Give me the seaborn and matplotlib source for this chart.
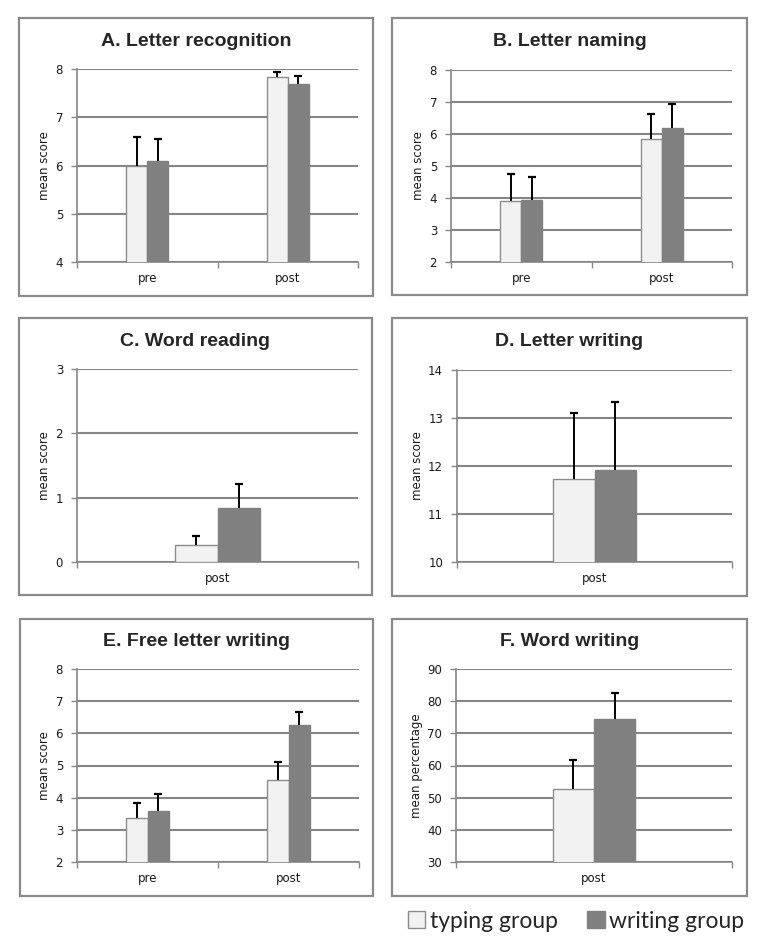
import numpy as np
import pandas as pd
import matplotlib
matplotlib.use("Agg")
import matplotlib.pyplot as plt
import seaborn as sns
from matplotlib.patches import Patch, Rectangle

# values
groups = ["typing group", "writing group"]

titles = ["A. Letter recognition", "B. Letter naming", "C. Word reading",
          "D. Letter writing", "E. Free letter writing", "F. Word writing"]
ylabels = ["mean score", "mean score", "mean score",
           "mean score", "mean score", "mean percentage"]

a_phase = ["pre", "post"]
a_typing = [6.0, 7.83]
a_writing = [6.09, 7.69]
a_typing_err = [0.60, 0.11]
a_writing_err = [0.46, 0.17]

b_phase = ["pre", "post"]
b_typing = [3.90, 5.83]
b_writing = [3.93, 6.19]
b_typing_err = [0.84, 0.79]
b_writing_err = [0.73, 0.74]

c_phase = ["post"]
c_typing = [0.27]
c_writing = [0.84]
c_typing_err = [0.14]
c_writing_err = [0.38]

d_phase = ["post"]
d_typing = [11.73]
d_writing = [11.92]
d_typing_err = [1.38]
d_writing_err = [1.41]

e_phase = ["pre", "post"]
e_typing = [3.36, 4.55]
e_writing = [3.60, 6.27]
e_typing_err = [0.46, 0.55]
e_writing_err = [0.51, 0.39]

f_phase = ["post"]
f_typing = [52.8]
f_writing = [74.4]
f_typing_err = [9.0]
f_writing_err = [8.0]

yranges = [(4, 8, 1), (2, 8, 1), (0, 3, 1), (10, 14, 1), (2, 8, 1), (30, 90, 10)]

panels = [
    (a_phase, a_typing, a_writing, a_typing_err, a_writing_err),
    (b_phase, b_typing, b_writing, b_typing_err, b_writing_err),
    (c_phase, c_typing, c_writing, c_typing_err, c_writing_err),
    (d_phase, d_typing, d_writing, d_typing_err, d_writing_err),
    (e_phase, e_typing, e_writing, e_typing_err, e_writing_err),
    (f_phase, f_typing, f_writing, f_typing_err, f_writing_err),
]

sns.set_style("white")
plt.rcParams['font.family'] = ['DejaVu Sans']

W, H = 765, 951
fig = plt.figure(figsize=(W / 100, H / 100), dpi=100)

# pixel boxes: (axes left, right, top, bottom), (frame left, right, top, bottom), title y
axes_px = [(77, 358, 69, 262), (451, 732, 70, 262),
           (77, 358, 369, 562), (457, 732, 370, 562),
           (77, 359, 669, 862), (456, 732, 669, 862)]
frame_px = [(19, 373, 18, 296), (392, 747, 18, 295),
            (19, 372, 318, 595), (392, 747, 318, 596),
            (20, 373, 619, 896), (392, 747, 619, 896)]
title_y = [42, 42, 342, 342, 642, 642]

light = "#f2f2f2"
dark = "#808080"
grid_c = "#868686"

for i, (phase, typ, wri, typ_e, wri_e) in enumerate(panels):
    l, r, t, b = axes_px[i]
    ax = fig.add_axes([l / W, 1 - b / H, (r - l) / W, (b - t) / H])

    df = pd.DataFrame({
        "phase": phase * 2,
        "value": typ + wri,
        "group": [groups[0]] * len(phase) + [groups[1]] * len(phase),
    })
    sns.barplot(data=df, x="phase", y="value", hue="group", ax=ax,
                palette=[light, dark], width=0.3, errorbar=None,
                legend=False, zorder=3)

    errs = [typ_e, wri_e]
    edges = ["#8c8c8c", dark]
    bar_sets = list(ax.containers)
    for k, cont in enumerate(bar_sets):
        for j, bar in enumerate(cont):
            bar.set_edgecolor(edges[k])
            bar.set_linewidth(1.0)
            xc = bar.get_x() + bar.get_width() / 2
            h = bar.get_height()
            eb = ax.errorbar(xc, h, yerr=[[0], [errs[k][j]]], fmt="none",
                             ecolor="black", elinewidth=1.4, capsize=2.8,
                             capthick=1.6, zorder=4)
            # only the upper cap is shown
            eb.lines[1][0].set_visible(False)

    lo, hi, step = yranges[i]
    ax.set_ylim(lo, hi)
    ax.set_yticks(np.arange(lo, hi + step / 2, step))
    ax.set_xlim(-0.5, len(phase) - 0.5)
    ax.yaxis.grid(True, color=grid_c, linewidth=1.5, zorder=0)
    ax.set_axisbelow(True)

    ax.set_xlabel("")
    ax.set_ylabel(ylabels[i], fontsize=8.5, color="#1a1a1a", labelpad=3)
    ax.tick_params(axis="y", labelsize=8.5, colors="#1a1a1a", length=4,
                   width=1, color=grid_c, direction="out", left=True, pad=6)
    ax.tick_params(axis="x", labelsize=8.5, colors="#1a1a1a", length=0, pad=7)

    # category boundary ticks on the x axis
    ax.set_xticks(np.arange(-0.5, len(phase)), minor=True)
    ax.tick_params(axis="x", which="minor", length=4, width=1, color=grid_c,
                   direction="out", bottom=True)

    for s in ["top", "right"]:
        ax.spines[s].set_visible(False)
    for s in ["left", "bottom"]:
        ax.spines[s].set_color(grid_c)
        ax.spines[s].set_linewidth(1.2)

    fl, fr, ft, fb = frame_px[i]
    fig.patches.append(Rectangle((fl / W, 1 - fb / H), (fr - fl) / W, (fb - ft) / H,
                                 transform=fig.transFigure, fill=False,
                                 edgecolor="#8a8a8a", linewidth=1.6, zorder=0))
    fig.text((fl + fr) / 2 / W, 1 - title_y[i] / H, titles[i],
             ha="center", va="center", fontsize=14, fontweight="bold",
             family="Liberation Sans")

handles = [Patch(facecolor=light, edgecolor="#8c8c8c", linewidth=1.0),
           Patch(facecolor=dark, edgecolor=dark, linewidth=1.0)]
fig.legend(handles, groups, loc="center", bbox_to_anchor=(576 / W, 1 - 921 / H),
           ncol=2, frameon=False, handlelength=0.75, handleheight=0.75,
           handletextpad=0.2, columnspacing=1.3,
           prop={"family": "Lato", "size": 16.5})

fig.savefig("out.png", dpi=100, facecolor="white")
